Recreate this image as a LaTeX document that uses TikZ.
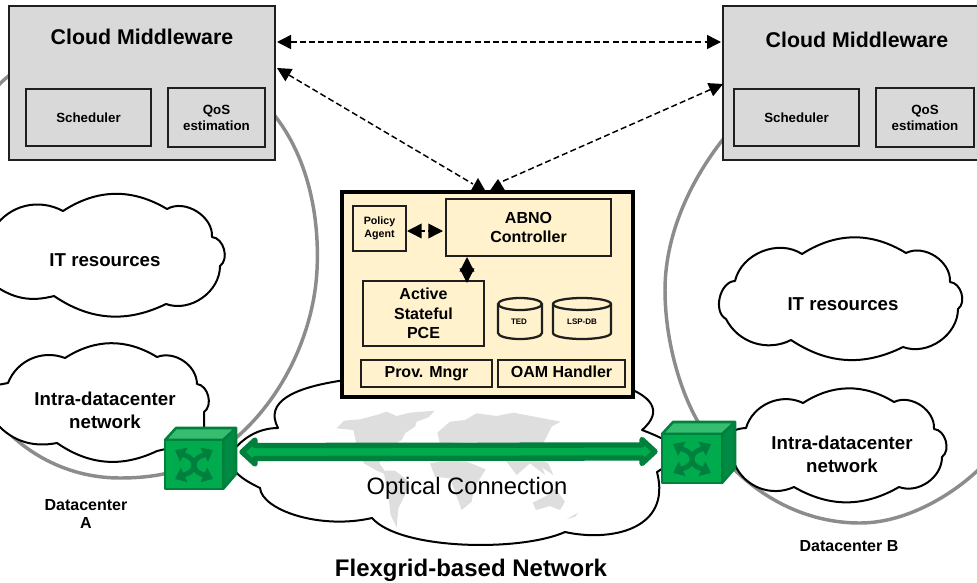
\documentclass[tikz,border=0pt]{standalone}
\usepackage{fontspec}
\setmainfont{Liberation Sans}
\usetikzlibrary{arrows.meta,calc}
\definecolor{boxgray}{HTML}{D9D9D9}
\definecolor{abnofill}{HTML}{FFF2CC}
\definecolor{ringgray}{HTML}{8C8C8C}
\definecolor{gfront}{HTML}{00AB4E}
\definecolor{gdark}{HTML}{007F3D}
\definecolor{gside}{HTML}{008A43}
\definecolor{gtop}{HTML}{35BD70}
\definecolor{mapgray}{HTML}{DEDEDE}
\tikzset{
  midbox/.style={draw=black!88,line width=1.9pt,fill=boxgray,inner sep=0pt,outer sep=0pt,align=center,font=\bfseries\fontsize{10}{12}\selectfont},
  abnobox/.style={draw=black,line width=3pt,fill=abnofill,inner sep=0pt,outer sep=0pt},
  inbox/.style={draw=black!88,line width=1.7pt,fill=abnofill,inner sep=0pt,outer sep=0pt,align=center,font=\bfseries\fontsize{12}{14.6}\selectfont},
  cloudline/.style={draw=black,line width=1.5pt,fill=white,line join=round},
  ring/.style={draw=ringgray,line width=2.6pt},
  label/.style={inner sep=0pt,align=center,text=black},
  boldbig/.style={label,font=\bfseries\fontsize{14}{17}\selectfont},
  dashconn/.style={draw=black,line width=1.1pt,dash pattern=on 4.5pt off 2.4pt,{Triangle[length=10.5pt,width=10.5pt]}-{Triangle[length=10.5pt,width=10.5pt]}},
  dashone/.style={draw=black,line width=1.1pt,dash pattern=on 4.5pt off 2.4pt,{Triangle[length=10.5pt,width=10.5pt]}-},
  smalltip/.style={draw=black,line width=1.1pt,dash pattern=on 3pt off 2pt,{Triangle[length=11pt,width=11pt]}-{Triangle[length=11pt,width=11pt]}},
  headfill/.style={fill=black},
  swarm/.style={draw=gdark,line width=3.6pt,-{Triangle[length=7.5pt,width=11.5pt]}},
  greenarrow/.style={draw=gdark,line width=4pt,fill=gfront,line join=round},
  map/.style={fill=mapgray,draw=none}
}
\newcommand\bx[7]{\node[#6,minimum width={(#4-#2)*0.75pt},minimum height={(#5-#3)*0.75pt}] (#1) at ({(#2+#4)/2},{(#3+#5)/2}) {#7};}
\newcommand\swcube[4]{% x y width name
  \begin{scope}[shift={(#1,#2)}]
    \filldraw[draw=gdark,line width=1.9pt,line join=round,fill=gside] (#3,0) -- (#3+13,-12) -- (#3+13,34) -- (#3,49) -- cycle;
    \filldraw[draw=gdark,line width=1.9pt,line join=round,fill=gtop] (0,0) -- (11,-12) -- (#3+13,-12) -- (#3,0) -- cycle;
    \filldraw[draw=gdark,line width=1.9pt,line join=round,fill=gfront] (0,0) rectangle (#3,49);
    \coordinate (#4) at (#3/2,25);
    \draw[swarm] (#4) .. controls ($(#4)+(-1,-8)$) and ($(#4)+(-6,-8)$) .. ($(#4)+(-19,-15)$);
    \draw[swarm] (#4) .. controls ($(#4)+(1,-8)$) and ($(#4)+(6,-8)$) .. ($(#4)+(19,-15)$);
    \draw[swarm] (#4) .. controls ($(#4)+(-1,8)$) and ($(#4)+(-6,8)$) .. ($(#4)+(-19,14)$);
    \draw[swarm] (#4) .. controls ($(#4)+(1,8)$) and ($(#4)+(6,8)$) .. ($(#4)+(19,14)$);
  \end{scope}}
\begin{document}
\begin{tikzpicture}[x=0.75pt,y=-0.75pt]
\useasboundingbox (0,0) rectangle (977,582);
\begin{scope}
\clip (0,0) rectangle (977,582);
% datacenter rings
\draw[ring] (270,110) .. controls (305,150) and (320,210) .. (317,270) .. controls (314,330) and (285,395) .. (237,437) .. controls (205,465) and (170,478) .. (120,478) .. controls (70,478) and (25,455) .. (-5,418) .. controls (-60,340) and (-60,140) .. (-3,87) .. controls (10,72) and (40,50) .. (100,40) .. controls (180,40) and (240,80) .. (270,110);
\draw[ring] (735,125) .. controls (695,170) and (665,230) .. (665,290) .. controls (665,340) and (680,390) .. (697,420) .. controls (730,480) and (790,523) .. (860,523) .. controls (910,523) and (960,490) .. (985,463);
% clouds
\path[cloudline] (-6,228) to[bend left=42] (63,211) to[bend left=32] (167,209) to[bend left=62] (212,237) to[bend left=70] (220,266) to[bend left=55] (166,304) to[bend left=30] (54,296) to[bend left=25] (-6,285) -- cycle;
\path[cloudline] (8,383) to[bend left=45] (65,358) to[bend left=32] (157,357) to[bend left=55] (197,384) to[bend left=70] (204,412) -- (204,440) -- (157,451) to[bend left=30] (57,443) to[bend left=32] (-8,418) to[bend left=20] (-8,386) -- cycle;
\path[cloudline] (735,281) to[bend left=55] (802,254) to[bend left=32] (906,253) to[bend left=60] (950,282) to[bend left=70] (958,309) to[bend left=55] (903,347) to[bend left=30] (791,340) to[bend left=45] (726,319) to[bend left=75] (735,281) -- cycle;
\path[cloudline] (746,428) to[bend left=50] (803,403) to[bend left=32] (894,402) to[bend left=60] (934,429) to[bend left=70] (942,457) to[bend left=55] (899,487) to[bend left=30] (794,487) to[bend left=45] (735,465) -- (725,450) -- (733,431) to[bend left=10] (746,428) -- cycle;
% optical cloud
\path[cloudline] (470,372) .. controls (400,375) and (250,375) .. (278,428) .. controls (262,428) and (245,435) .. (232,452) -- (232,468) .. controls (240,478) and (250,483) .. (260,488) .. controls (262,510) and (320,530) .. (372,518) .. controls (400,550) and (520,552) .. (565,532) .. controls (610,542) and (672,530) .. (657,472) -- (668,465) -- (668,442) .. controls (660,437) and (650,433) .. (642,430) .. controls (665,410) and (650,395) .. (620,385) -- cycle;
% world map
\begin{scope}[shift={(220,380)},scale=0.3333]
\fill[map] (350,145) -- (372,122) -- (420,118) -- (470,105) -- (500,95) -- (530,108) -- (570,98) -- (645,92) -- (625,112) -- (590,125) -- (585,140) -- (555,160) -- (545,180) -- (520,195) -- (490,225) -- (478,250) -- (503,285) -- (470,272) -- (432,250) -- (410,195) -- (400,150) -- cycle;
\fill[map] (490,272) -- (525,272) -- (568,305) -- (555,345) -- (535,385) -- (530,442) -- (512,405) -- (505,345) -- cycle;
\fill[map] (652,158) -- (690,125) -- (735,120) -- (770,100) -- (830,108) -- (880,98) -- (1022,125) -- (995,140) -- (975,180) -- (950,215) -- (975,285) -- (930,250) -- (890,285) -- (852,235) -- (800,230) -- (770,185) -- (660,190) -- cycle;
\fill[map] (630,250) -- (680,240) -- (740,245) -- (797,268) -- (762,325) -- (755,365) -- (725,390) -- (705,335) -- (690,295) -- (645,290) -- cycle;
\fill[map] (938,368) -- (985,345) -- (1005,325) -- (1035,365) -- (1020,390) -- (990,378) -- (948,390) -- cycle;
\fill[map] (1040,417) -- (1075,398) -- (1066,410) -- cycle;
\fill[map] (950,235) -- (985,250) -- (1000,285) -- (970,265) -- cycle;
\end{scope}
\end{scope}
% middleware boxes
\bx{cmL}{9}{6}{275}{160}{midbox}{}
\bx{cmR}{723}{6}{995}{160}{midbox}{}
\bx{schedL}{26}{89}{151}{146}{midbox}{Scheduler}
\bx{qosL}{168}{88}{265}{147}{midbox}{QoS\\estimation}
\bx{schedR}{734}{89}{859}{146}{midbox}{Scheduler}
\bx{qosR}{876}{88}{974}{147}{midbox}{QoS\\estimation}
\node[label,font=\bfseries\fontsize{16}{19}\selectfont] (titleL) at (142,37) {Cloud Middleware};
\node[label,font=\bfseries\fontsize{16}{19}\selectfont] (titleR) at (857,40) {Cloud Middleware};
% ABNO
\bx{abno}{342}{192}{633}{397}{abnobox}{}
\bx{policy}{353}{206}{406}{251}{inbox,font=\bfseries\fontsize{8}{10}\selectfont}{Policy\\Agent}
\bx{ctrl}{446}{199}{611}{256}{inbox,font=\bfseries\fontsize{12}{14}\selectfont}{ABNO\\Controller}
\bx{pce}{363}{281}{484}{346}{inbox}{Active\\Stateful\\PCE}
\bx{prov}{361}{360}{492}{387}{inbox}{Prov. Mngr}
\bx{oam}{498}{360}{625}{387}{inbox}{\vphantom{g}OAM Handler}
% cylinders
\filldraw[draw=black!88,line width=1.7pt,fill=abnofill] (498,304) -- (498,333) arc[start angle=180,end angle=0,x radius=22,y radius=6] -- (542,304) arc[start angle=0,end angle=-180,x radius=22,y radius=6] -- cycle;
\draw[black!88,line width=1.7pt] (498,304) arc[start angle=180,end angle=0,x radius=22,y radius=6];
\filldraw[draw=black!88,line width=1.7pt,fill=abnofill] (553,304) -- (553,333) arc[start angle=180,end angle=0,x radius=29,y radius=6] -- (611,304) arc[start angle=0,end angle=-180,x radius=29,y radius=6] -- cycle;
\draw[black!88,line width=1.7pt] (553,304) arc[start angle=180,end angle=0,x radius=29,y radius=6];
\node[label,font=\bfseries\fontsize{6}{7}\selectfont] (ted) at (519,322) {TED};
\node[label,font=\bfseries\fontsize{6}{7}\selectfont] (lsp) at (582,322) {LSP-DB};
% signalling connectors
\coordinate (cmLa) at ($(cmL.north east)+(2,36)$);
\coordinate (cmLb) at ($(cmL.north east)+(2,62)$);
\coordinate (cmRa) at ($(cmR.north west)+(-2,36)$);
\coordinate (cmRb) at ($(cmR.north west)+(0,78)$);
\coordinate (abnoA) at ($(abno.north west)+(131,-8)$);
\coordinate (abnoB) at ($(abno.north west)+(150,-6)$);
\draw[dashconn] (cmLa) -- (cmRa);
\draw[dashone] (cmLb) -- (abnoA);
\draw[dashone] (cmRb) -- (abnoB);
\fill[headfill] ($(abno.north west)+(136,-14)$) -- ($(abno.north west)+(128,0)$) -- ($(abno.north west)+(144,0)$) -- cycle;
\fill[headfill] ($(abno.north west)+(156,-13)$) -- ($(abno.north west)+(147,0)$) -- ($(abno.north west)+(164,0)$) -- cycle;
\coordinate (pa) at ($(policy.north east)+(1,25)$);
\coordinate (pb) at ($(ctrl.north west)+(-3,32)$);
\draw[smalltip] (pa) -- (pb);
\draw[smalltip] ($(ctrl.south west)+(21,1)$) -- ($(pce.north east)+(-17,2)$);
% green link
\coordinate (tipL) at (242,452);
\coordinate (tipR) at (655,451.5);
\path[greenarrow] (tipL) -- ($(tipL)+(13,-12)$) -- ($(tipL)+(13,-6.5)$) -- ($(tipR)+(-13,-6.5)$) -- ($(tipR)+(-13,-12)$) -- (tipR) -- ($(tipR)+(-13,12)$) -- ($(tipR)+(-13,6.5)$) -- ($(tipL)+(13,6.5)$) -- ($(tipL)+(13,12)$) -- cycle;
% switches
\swcube{165}{440}{58}{swL}
\swcube{662}{434}{60}{swR}
% labels
\node[boldbig] (itL) at (105,260) {IT resources};
\node[boldbig] (itR) at (843,304) {IT resources};
\node[boldbig] (intraL) at (105,410) {Intra-datacenter\\network};
\node[boldbig] (intraR) at (842,454.5) {Intra-datacenter\\network};
\node[label,font=\fontsize{17.8}{21}\selectfont] (optical) at (467,488) {Optical Connection};
\node[label,font=\bfseries\fontsize{12}{13.5}\selectfont] (dcA) at (86,514) {Datacenter\\A};
\node[label,font=\bfseries\fontsize{12}{14}\selectfont] (dcB) at (849,546) {Datacenter B};
\node[label,font=\bfseries\fontsize{18}{21}\selectfont] (flex) at (471,570) {Flexgrid-based Network};
\end{tikzpicture}
\end{document}
